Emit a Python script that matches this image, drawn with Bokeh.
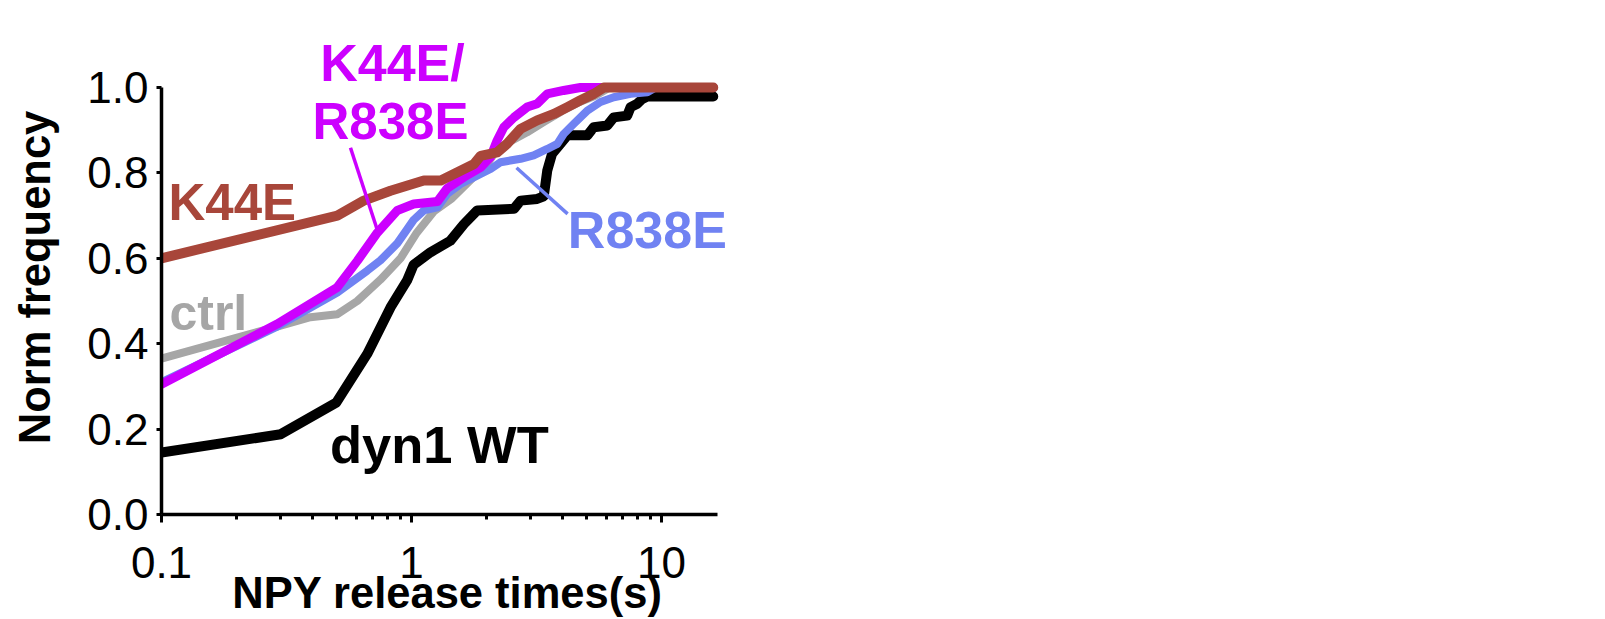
from bokeh.plotting import figure
from bokeh.models import Range1d, FixedTicker, CustomJSTickFormatter, Label
from bokeh.embed import file_html
from bokeh.resources import INLINE

# ---- data ----
wt_x = [0.1, 0.3, 0.5, 0.665, 0.824, 0.96, 1.02, 1.19, 1.43, 1.62, 1.83, 2.57, 2.73, 3.18, 3.38,
        3.49, 3.65, 3.94, 4.2, 5.05, 5.36, 6.07, 6.44, 7.29, 7.52, 8.0, 8.37, 8.77, 16.1]
wt_y = [0.145, 0.188, 0.262, 0.376, 0.485, 0.548, 0.585, 0.614, 0.641, 0.68, 0.712, 0.716, 0.735, 0.739, 0.745,
        0.805, 0.845, 0.868, 0.888, 0.888, 0.907, 0.911, 0.93, 0.934, 0.954, 0.962, 0.973, 0.979, 0.979]

ctrl_x = [0.1, 0.29, 0.394, 0.505, 0.607, 0.751, 0.904, 1.05, 1.23, 1.45, 1.7, 2.0, 2.2, 2.5, 2.9,
          3.4, 4.0, 4.7, 5.4, 6.2, 16.1]
ctrl_y = [0.365, 0.44, 0.462, 0.469, 0.50, 0.55, 0.60, 0.66, 0.71, 0.74, 0.78, 0.82, 0.855, 0.875, 0.895,
          0.92, 0.945, 0.966, 0.98, 1.0, 1.0]

r838e_x = [0.1, 0.29, 0.505, 0.665, 0.751, 0.877, 0.94, 1.02, 1.12, 1.27, 1.39, 1.57, 1.78, 2.07, 2.27,
           2.73, 3.08, 3.49, 3.83, 4.06, 4.46, 5.05, 5.70, 6.44, 7.52, 8.77, 9.46, 16.1]
r838e_y = [0.31, 0.44, 0.52, 0.571, 0.595, 0.635, 0.66, 0.69, 0.712, 0.719, 0.751, 0.774, 0.79, 0.809, 0.825,
           0.833, 0.841, 0.856, 0.868, 0.891, 0.915, 0.946, 0.966, 0.977, 0.985, 0.989, 1.0, 1.0]

dbl_x = [0.1, 0.29, 0.505, 0.607, 0.73, 0.877, 1.02, 1.27, 1.39, 1.62, 1.89, 2.07, 2.20, 2.34, 2.57,
         2.90, 3.18, 3.49, 4.06, 4.74, 16.1]
dbl_y = [0.305, 0.446, 0.532, 0.594, 0.66, 0.712, 0.727, 0.733, 0.764, 0.79, 0.813, 0.837, 0.876, 0.907, 0.93,
         0.954, 0.962, 0.985, 0.993, 1.0, 1.0]

k44e_x = [0.1, 0.505, 0.644, 0.824, 1.12, 1.31, 1.57, 1.78, 1.89, 2.20, 2.41, 2.73, 3.18, 3.71, 4.20,
          4.74, 5.36, 5.88, 16.1]
k44e_y = [0.60, 0.70, 0.735, 0.758, 0.782, 0.782, 0.805, 0.821, 0.84, 0.848, 0.868, 0.903, 0.923, 0.938, 0.954,
          0.97, 0.985, 1.0, 1.0]

x_ticks = [0.1, 1, 10]
x_minor = [0.2, 0.3, 0.4, 0.5, 0.6, 0.7, 0.8, 0.9, 2, 3, 4, 5, 6, 7, 8, 9]
y_ticks = [0.0, 0.2, 0.4, 0.6, 0.8, 1.0]

C_WT = "#000000"
C_CTRL = "#a6a6a6"
C_R838E = "#7082f2"
C_DBL = "#cc00ff"
C_K44E = "#a8463a"

FONT = "Liberation Sans"

p = figure(width=768, height=619, x_axis_type="log",
           x_range=Range1d(0.1, 19.4), y_range=Range1d(0, 1.11),
           output_backend="svg", toolbar_location=None,
           min_border_left=161, min_border_right=35, min_border_top=40, min_border_bottom=105)
p.grid.visible = False
p.outline_line_color = None
p.background_fill_color = "white"
p.border_fill_color = "white"

series = [
    (wt_x, wt_y, C_WT, 10),
    (ctrl_x, ctrl_y, C_CTRL, 8),
    (r838e_x, r838e_y, C_R838E, 8),
    (dbl_x, dbl_y, C_DBL, 9),
    (k44e_x, k44e_y, C_K44E, 10),
]
for xs, ys, col, w in series:
    p.line(xs, ys, line_color=col, line_width=w, line_cap="round", line_join="round")

# pointer lines
p.segment(x0=[0.570], y0=[0.859], x1=[0.731], y1=[0.665], line_color=C_DBL, line_width=3.5)
p.segment(x0=[2.63], y0=[0.812], x1=[4.21], y1=[0.704], line_color=C_R838E, line_width=3.5)

# labels
def lab(x, y, text, color, size, align="left"):
    p.add_layout(Label(x=x, y=y, text=text, text_color=color, text_font=FONT,
                       text_font_size=size, text_font_style="bold",
                       text_align=align, text_baseline="alphabetic"))

lab(0.839, 1.058, "K44E/", C_DBL, "52px", "center")
lab(0.824, 0.920, "R838E", C_DBL, "51px", "center")
lab(0.1067, 0.730, "K44E", C_K44E, "51px")
lab(0.1076, 0.471, "ctrl", C_CTRL, "50px")
lab(0.472, 0.163, "dyn1 WT", C_WT, "52.5px")
lab(4.22, 0.666, "R838E", C_R838E, "52px")

# axes
xa = p.xaxis[0]
xa.ticker = FixedTicker(ticks=x_ticks, minor_ticks=x_minor)
xa.formatter = CustomJSTickFormatter(code="return tick < 1 ? tick.toFixed(1) : tick.toFixed(0);")
xa.bounds = (0.1, 16.7)
xa.axis_label = "NPY release times(s)"
xa.major_label_standoff = 24
xa.axis_label_standoff = -12

ya = p.yaxis[0]
ya.ticker = FixedTicker(ticks=y_ticks)
ya.formatter = CustomJSTickFormatter(code="return tick.toFixed(1);")
ya.bounds = (0, 1.0)
ya.axis_label = "Norm frequency"
ya.major_label_standoff = 8
ya.axis_label_standoff = 25

for ax in (xa, ya):
    ax.axis_line_width = 3.5
    ax.axis_line_color = "black"
    ax.major_tick_line_width = 3
    ax.minor_tick_line_width = 3
    ax.major_tick_line_color = "black"
    ax.minor_tick_line_color = "black"
    ax.major_tick_in = 0
    ax.minor_tick_in = 0
    ax.major_label_text_font = FONT
    ax.major_label_text_font_size = "44px"
    ax.major_label_text_color = "black"
    ax.axis_label_text_font = FONT
    ax.axis_label_text_font_size = "43.5px"
    ax.axis_label_text_font_style = "bold"
    ax.axis_label_text_color = "black"

xa.major_tick_out = 8
xa.minor_tick_out = 5
ya.major_tick_out = 5
ya.minor_tick_out = 0

open("out.html", "w").write(file_html(p, INLINE))
